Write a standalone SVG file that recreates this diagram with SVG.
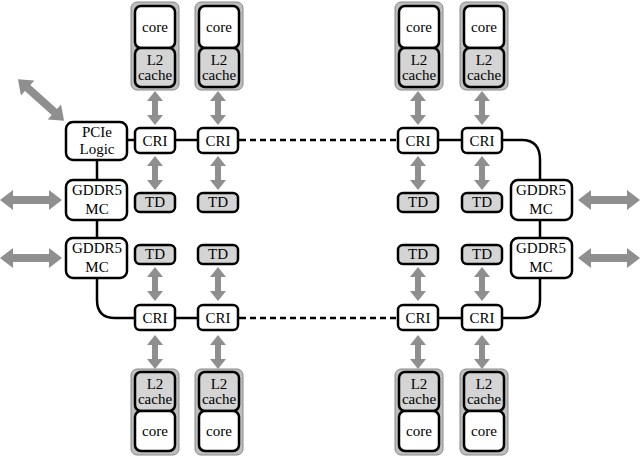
<svg xmlns="http://www.w3.org/2000/svg" width="640" height="457" viewBox="0 0 640 457">
<style>
.b{fill:#fff;stroke:#000;stroke-width:2.5}
.g{fill:#d4d4d4;stroke:#000;stroke-width:2.5}
.o{fill:#bdbdbd;stroke:#8a8a8a;stroke-width:1}
.l{fill:none;stroke:#000;stroke-width:2.5}
.d{fill:none;stroke:#000;stroke-width:2.5;stroke-dasharray:6 4}
.a{fill:#8f8f8f}
text{font-family:"Liberation Serif",serif;font-size:15px;text-anchor:middle;fill:#000}
</style>
<defs>
<path id="av" class="a" d="M0,-17 L8,-7 L3,-7 L3,7 L8,7 L0,17 L-8,7 L-3,7 L-3,-7 L-8,-7 Z"/>
<path id="ah" class="a" d="M-31,0 L-18,-10 L-18,-4 L18,-4 L18,-10 L31,0 L18,10 L18,4 L-18,4 L-18,10 Z"/>
<g id="stackT">
<rect class="o" x="-24" y="0" width="48" height="88" rx="6"/>
<rect class="b" x="-20" y="4" width="40" height="42" rx="6"/>
<rect class="g" x="-20" y="46" width="40" height="39" rx="6"/>
<text x="0" y="30">core</text><text x="0" y="63">L2</text><text x="0" y="78">cache</text>
</g>
<g id="stackB">
<rect class="o" x="-24" y="0" width="48" height="86" rx="6"/>
<rect class="g" x="-20" y="3" width="40" height="39" rx="6"/>
<rect class="b" x="-20" y="42" width="40" height="40" rx="6"/>
<text x="0" y="20">L2</text><text x="0" y="35">cache</text><text x="0" y="67">core</text>
</g>
</defs>
<g id="connectors">
<path class="l" d="M127,140 H240 M398,140 H522 Q540,140 540,160 V180"/>
<path class="d" d="M240,140 H398"/>
<path class="l" d="M97,160 V180 M97,220 V238 M540,220 V238"/>
<path class="l" d="M97,278 V300 Q97,318 115,318 H240 M398,318 H522 Q540,318 540,300 V278"/>
<path class="d" d="M240,318 H398"/>
<use href="#av" x="155" y="108"/><use href="#av" x="218" y="108"/><use href="#av" x="418" y="108"/><use href="#av" x="482" y="108"/>
<use href="#av" x="155" y="173"/><use href="#av" x="218" y="173"/><use href="#av" x="418" y="173"/><use href="#av" x="482" y="173"/>
<use href="#av" x="155" y="284"/><use href="#av" x="218" y="284"/><use href="#av" x="418" y="284"/><use href="#av" x="482" y="284"/>
<use href="#av" x="155" y="352"/><use href="#av" x="218" y="352"/><use href="#av" x="418" y="352"/><use href="#av" x="482" y="352"/>
<use href="#ah" x="31" y="200"/><use href="#ah" x="31" y="258"/><use href="#ah" x="609" y="200"/><use href="#ah" x="609" y="258"/>
<use href="#ah" transform="translate(41,100) rotate(42)"/>
</g>
<g id="stacks-top"><use href="#stackT" x="155" y="2"/><use href="#stackT" x="219" y="2"/><use href="#stackT" x="419" y="2"/><use href="#stackT" x="484" y="2"/></g>
<g id="stacks-bottom"><use href="#stackB" x="155" y="369"/><use href="#stackB" x="219" y="369"/><use href="#stackB" x="419" y="369"/><use href="#stackB" x="484" y="369"/></g>
<g id="pcie"><rect class="b" x="66" y="122" width="61" height="38" rx="7"/><text x="97" y="137">PCIe</text><text x="97" y="154">Logic</text></g>
<g id="mc1"><rect class="b" x="66" y="180" width="61" height="40" rx="7"/><text x="97" y="195">GDDR5</text><text x="97" y="214">MC</text></g>
<g id="mc2"><rect class="b" x="66" y="238" width="61" height="40" rx="7"/><text x="97" y="253">GDDR5</text><text x="97" y="272">MC</text></g>
<g id="mc3"><rect class="b" x="511" y="180" width="61" height="40" rx="7"/><text x="541" y="195">GDDR5</text><text x="541" y="214">MC</text></g>
<g id="mc4"><rect class="b" x="511" y="238" width="61" height="40" rx="7"/><text x="541" y="253">GDDR5</text><text x="541" y="272">MC</text></g>
<g id="cri-top">
<rect class="b" x="135" y="128" width="40" height="25" rx="5"/><text x="155" y="146">CRI</text>
<rect class="b" x="198" y="128" width="40" height="25" rx="5"/><text x="218" y="146">CRI</text>
<rect class="b" x="398" y="128" width="40" height="25" rx="5"/><text x="418" y="146">CRI</text>
<rect class="b" x="462" y="128" width="40" height="25" rx="5"/><text x="482" y="146">CRI</text>
</g>
<g id="cri-bottom">
<rect class="b" x="135" y="305" width="40" height="25" rx="5"/><text x="155" y="323">CRI</text>
<rect class="b" x="198" y="305" width="40" height="25" rx="5"/><text x="218" y="323">CRI</text>
<rect class="b" x="398" y="305" width="40" height="25" rx="5"/><text x="418" y="323">CRI</text>
<rect class="b" x="462" y="305" width="40" height="25" rx="5"/><text x="482" y="323">CRI</text>
</g>
<g id="td-top">
<rect class="g" x="135" y="193" width="40" height="19" rx="5"/><text x="155" y="207">TD</text>
<rect class="g" x="198" y="193" width="40" height="19" rx="5"/><text x="218" y="207">TD</text>
<rect class="g" x="398" y="193" width="40" height="19" rx="5"/><text x="418" y="207">TD</text>
<rect class="g" x="462" y="193" width="40" height="19" rx="5"/><text x="482" y="207">TD</text>
</g>
<g id="td-bottom">
<rect class="g" x="135" y="245" width="40" height="19" rx="5"/><text x="155" y="259">TD</text>
<rect class="g" x="198" y="245" width="40" height="19" rx="5"/><text x="218" y="259">TD</text>
<rect class="g" x="398" y="245" width="40" height="19" rx="5"/><text x="418" y="259">TD</text>
<rect class="g" x="462" y="245" width="40" height="19" rx="5"/><text x="482" y="259">TD</text>
</g>
</svg>
